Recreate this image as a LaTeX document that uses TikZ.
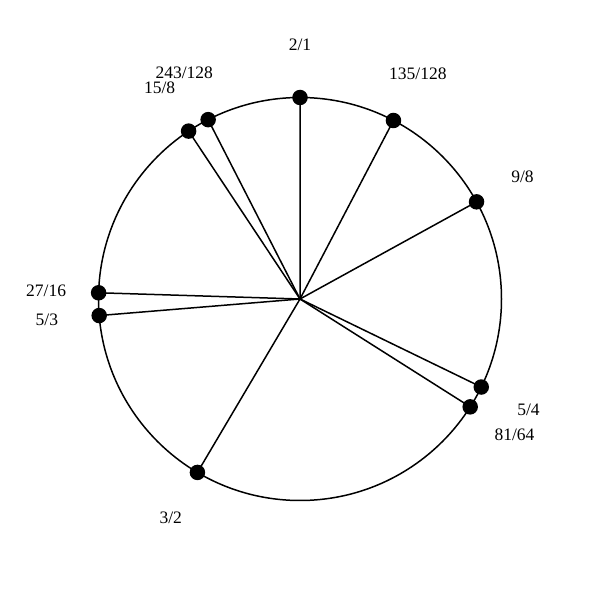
\documentclass[tikz,border=0pt]{standalone}
\usepackage{fontspec}
\setmainfont{Liberation Serif}
\usetikzlibrary{calc}
\begin{document}
\begin{tikzpicture}[x=1pt,y=1pt,
  ring/.style={draw=black,line width=1.5pt},
  spoke/.style={draw=black,line width=1.5pt},
  dot/.style={circle,fill=black,inner sep=0pt,minimum size=15.5pt},
  lab/.style={font=\fontsize{17.5}{20}\selectfont,inner sep=0pt}]
\useasboundingbox (0,0) rectangle (600,600);
\coordinate (c) at (300,301);
\def\R{201.5}
\def\L{254}
\draw[ring] (c) circle (\R);
\foreach \n/\num/\den in {a/2/1,b/135/128,c9/9/8,d/5/4,e/81/64,f/3/2,g/5/3,h/27/16,i/15/8,j/243/128}{
  \pgfmathsetmacro{\ang}{90-360*ln(\num/\den)/ln(2)}
  \coordinate (p\n) at ($(c)+(\ang:\R)$);
  \draw[spoke] (c) -- (p\n);
  \node[dot] (d\n) at (p\n) {};
  \node[lab] (l\n) at ($(c)+(\ang:\L)$) {\num/\den};
}
\end{tikzpicture}
\end{document}
